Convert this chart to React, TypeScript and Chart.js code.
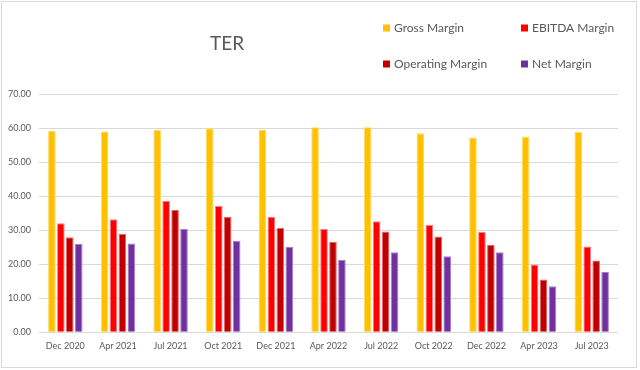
import React, { useEffect, useRef } from "react";
import { Chart, registerables } from "chart.js";

Chart.register(...registerables);

const categories = ["Dec 2020", "Apr 2021", "Jul 2021", "Oct 2021", "Dec 2021", "Apr 2022", "Jul 2022", "Oct 2022", "Dec 2022", "Apr 2023", "Jul 2023"];
const grossMargin = [59.2, 59.0, 59.5, 59.9, 59.5, 60.2, 60.2, 58.5, 57.2, 57.5, 58.8];
const ebitdaMargin = [32.0, 33.2, 38.6, 37.1, 33.9, 30.3, 32.6, 31.5, 29.5, 19.9, 25.2];
const operatingMargin = [27.9, 28.9, 35.9, 33.9, 30.6, 26.6, 29.6, 28.1, 25.7, 15.5, 21.1];
const netMargin = [25.9, 26.1, 30.3, 26.9, 25.1, 21.3, 23.5, 22.3, 23.5, 13.5, 17.7];
const seriesNames = ["Gross Margin", "EBITDA Margin", "Operating Margin", "Net Margin"];
const seriesColors = ["#FFC000", "#FF0000", "#C00000", "#7030A0"];
const seriesBorders = ["#FFD966", "#FF7C80", "#E06666", "#A67FC8"];
const chartTitle = "TER";

const FONT = "Lato, 'Open Sans', sans-serif";
const TEXT = "#595959";

const overlayPlugin = {
  id: "overlay",
  afterDraw(chart: any) {
    const ctx = chart.ctx;
    ctx.save();
    ctx.strokeStyle = "#D9D9D9";
    ctx.lineWidth = 1;
    ctx.strokeRect(1.5, 1.5, 635, 366);
    ctx.fillStyle = TEXT;
    ctx.font = `19px ${FONT}`;
    ctx.textAlign = "center";
    ctx.textBaseline = "middle";
    ctx.fillText(chartTitle, 227, 44);
    const xs = [383, 521];
    const ys = [28, 64];
    ctx.font = `12px ${FONT}`;
    ctx.textAlign = "left";
    chart.data.datasets.forEach((ds: any, i: number) => {
      const x = xs[i % 2];
      const y = ys[Math.floor(i / 2)];
      ctx.fillStyle = ds.backgroundColor;
      ctx.fillRect(x, y - 3.5, 7, 7);
      ctx.fillStyle = TEXT;
      ctx.fillText(ds.label, x + 11, y);
    });
    ctx.restore();
  },
};

export default function App() {
  const ref = useRef<HTMLCanvasElement>(null);
  useEffect(() => {
    if (!ref.current) return;
    const all = [grossMargin, ebitdaMargin, operatingMargin, netMargin];
    const chart = new Chart(ref.current, {
      type: "bar",
      data: {
        labels: categories,
        datasets: all.map((d, i) => ({
          label: seriesNames[i],
          data: d,
          backgroundColor: seriesColors[i],
          borderColor: seriesBorders[i],
          borderWidth: 1,
          categoryPercentage: 0.68,
          barPercentage: 0.85,
        })),
      },
      options: {
        responsive: false,
        animation: false,
        devicePixelRatio: 1,
        layout: { padding: { top: 94, right: 22, left: 0, bottom: 19 } },
        plugins: {
          legend: { display: false },
          title: { display: false },
          tooltip: { enabled: false },
        },
        scales: {
          x: {
            grid: { display: false },
            border: { display: false },
            ticks: { color: TEXT, font: { family: FONT, size: 9 }, maxRotation: 0, padding: 0 },
          },
          y: {
            min: 0,
            max: 70,
            ticks: {
              stepSize: 10,
              color: TEXT,
              font: { family: FONT, size: 9 },
              padding: 8,
              callback: (v: any) => Number(v).toFixed(2),
            },
            grid: { color: "#D9D9D9", lineWidth: 1, drawTicks: false },
            border: { display: false },
          },
        },
      },
      plugins: [overlayPlugin],
    });
    return () => chart.destroy();
  }, []);
  return (
    <div style={{ position: "fixed", left: 0, top: 0, width: 640, height: 370, background: "#fff" }}>
      <canvas ref={ref} width={640} height={370} style={{ display: "block" }} />
    </div>
  );
}
